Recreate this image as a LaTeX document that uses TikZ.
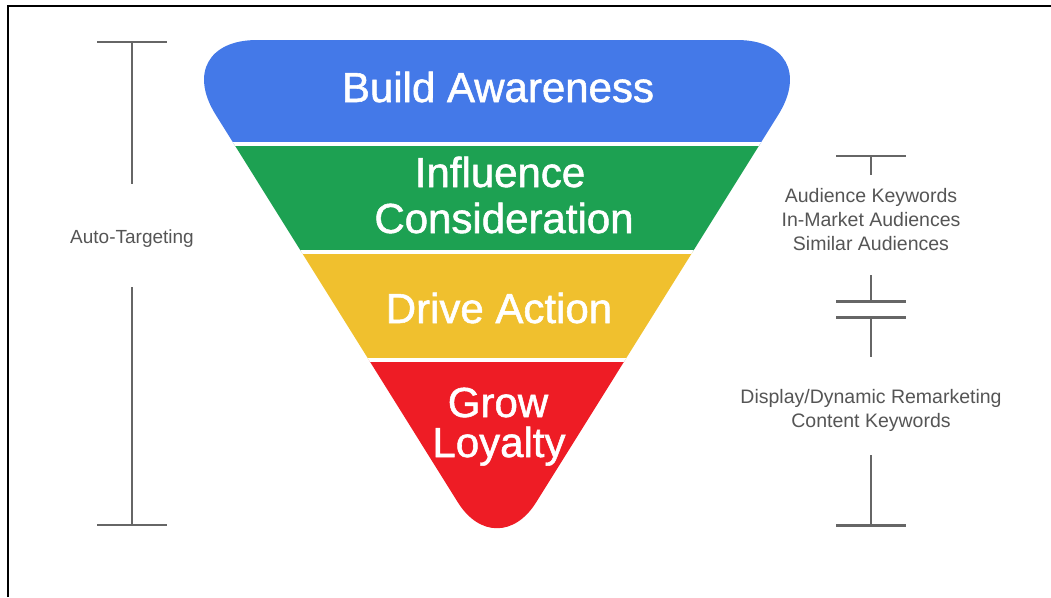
\documentclass[tikz,border=0pt]{standalone}
\usepackage{fontspec}
\setmainfont{Liberation Sans}
\newfontfamily\labelfont[RawFeature={embolden=1.3}]{Liberation Sans}
\definecolor{fblue}{HTML}{4479E8}
\definecolor{fgreen}{HTML}{1DA152}
\definecolor{fyellow}{HTML}{F0C02E}
\definecolor{fred}{HTML}{EE1C25}
\definecolor{linegray}{HTML}{666666}
\definecolor{txtgray}{HTML}{555555}
\tikzset{
  bandlabel/.style={font=\labelfont\fontsize{42}{48}\selectfont, text=white, inner sep=0pt, anchor=base},
  sidelabel/.style={font=\fontsize{19.5}{24}\selectfont, text=txtgray, inner sep=0pt, anchor=base},
  bracket/.style={draw=linegray, line width=2.2pt},
  gap/.style={draw=white, line width=4pt},
  frame/.style={draw=black, line width=2pt}
}
\begin{document}
\begin{tikzpicture}[x=1pt,y=-1pt]
\useasboundingbox (0,0) rectangle (1051,597);
% frame
\coordinate (fbl) at (8,597);
\coordinate (ftl) at (8,6);
\coordinate (ftr) at (1051,6);
\draw[frame] (fbl) -- (ftl) -- (ftr);
% funnel
\begin{scope}
\clip (497,565) [rounded corners=88pt] -- (169,40) -- (825,40) [rounded corners=74pt] -- cycle;
\fill[fblue] (150,30) rectangle (850,144);
\fill[fgreen] (150,144) rectangle (850,252);
\fill[fyellow] (150,252) rectangle (850,360);
\fill[fred] (150,360) rectangle (850,600);
\draw[gap] (150,144) -- (850,144);
\draw[gap] (150,252) -- (850,252);
\draw[gap] (150,360) -- (850,360);
\end{scope}
% funnel labels
\node[bandlabel] (build) at (498,102) {Build Awareness};
\node[bandlabel] (influence) at (500,187) {Influence};
\node[bandlabel] (consideration) at (504,233) {Consideration};
\node[bandlabel] (drive) at (499,323) {Drive Action};
\node[bandlabel] (grow) at (498,417) {Grow};
\node[bandlabel] (loyalty) at (499,457) {Loyalty};
% left bracket
\node[sidelabel, font=\fontsize{19}{24}\selectfont] (auto) at (132,243) {Auto-Targeting};
\coordinate (lta) at (97,42);
\coordinate (ltb) at (167,42);
\coordinate (ltm) at (132,42);
\coordinate (lte) at (132,184);
\coordinate (lbs) at (132,287);
\coordinate (lbm) at (132,525);
\coordinate (lba) at (97,525);
\coordinate (lbb) at (167,525);
\draw[bracket] (lta) -- (ltb);
\draw[bracket] (ltm) -- (lte);
\draw[bracket] (lbs) -- (lbm);
\draw[bracket] (lba) -- (lbb);
% right labels
\node[sidelabel] (aud1) at (871,202) {Audience Keywords};
\node[sidelabel] (aud2) at (871,226) {In-Market Audiences};
\node[sidelabel] (aud3) at (871,250) {Similar Audiences};
\node[sidelabel] (disp1) at (871,403) {Display/Dynamic Remarketing};
\node[sidelabel] (disp2) at (871,427) {Content Keywords};
% right brackets
\coordinate (r1a) at (836,156);
\coordinate (r1b) at (906,156);
\coordinate (r1m) at (871,156);
\coordinate (r1e) at (871,175);
\coordinate (r2s) at (871,275);
\coordinate (r2m) at (871,301.5);
\coordinate (r2a) at (836,301.5);
\coordinate (r2b) at (906,301.5);
\coordinate (r3a) at (836,317.5);
\coordinate (r3b) at (906,317.5);
\coordinate (r3m) at (871,317.5);
\coordinate (r3e) at (871,357);
\coordinate (r4s) at (871,455);
\coordinate (r4m) at (871,525.5);
\coordinate (r4a) at (836,525.5);
\coordinate (r4b) at (906,525.5);
\draw[bracket] (r1a) -- (r1b);
\draw[bracket] (r1m) -- (r1e);
\draw[bracket] (r2s) -- (r2m);
\draw[bracket] (r2a) -- (r2b);
\draw[bracket] (r3a) -- (r3b);
\draw[bracket] (r3m) -- (r3e);
\draw[bracket] (r4s) -- (r4m);
\draw[bracket] (r4a) -- (r4b);
\end{tikzpicture}
\end{document}
